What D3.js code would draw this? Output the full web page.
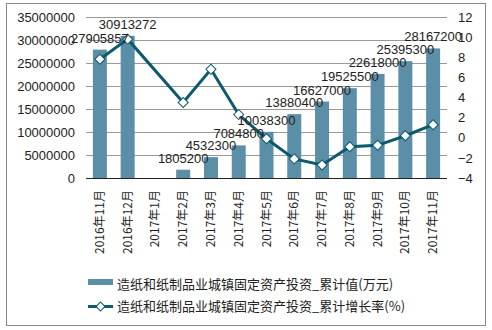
<!DOCTYPE html>
<html><head><meta charset="utf-8">
<script src="https://cdn.jsdelivr.net/npm/d3@7"></script>
<style>body{margin:0;background:#fff}svg{display:block;font-family:"Liberation Sans",Arial,sans-serif}</style>
</head><body><svg width="492" height="330"></svg>
<script>
const categories = ["2016年11月","2016年12月","2017年1月","2017年2月","2017年3月","2017年4月","2017年5月","2017年6月","2017年7月","2017年8月","2017年9月","2017年10月","2017年11月"];
const barValues = [27905857,30913272,null,1805200,4532300,7084800,10038300,13880400,16627000,19525500,22618000,25395300,28167200];
const barLabels = ["27905857","30913272","","1805200","4532300","7084800","10038300","13880400","16627000","19525500","22618000","25395300","28167200"];
const rateValues = [7.8,9.8,null,3.5,6.8,2.3,-0.1,-2.1,-2.7,-0.9,-0.75,0.2,1.3];
const leftTicks = [0,5000000,10000000,15000000,20000000,25000000,30000000,35000000];
const rightTicks = [-4,-2,0,2,4,6,8,10,12];
const barName = "造纸和纸制品业城镇固定资产投资_累计值(万元)";
const lineName = "造纸和纸制品业城镇固定资产投资_累计增长率(%)";

const barColor = "#5b8ea7", lineColor = "#0d596d";
const svg = d3.select("svg");
svg.append("rect").attr("x",6.5).attr("y",3.5).attr("width",479).attr("height",322)
  .attr("fill","none").attr("stroke","#888").attr("stroke-width",1);

const L = 86, R = 447, T = 17, B = 178;
const x = d3.scaleBand().domain(categories).range([L,R]).padding(0);
const yL = d3.scaleLinear().domain([0,35000000]).range([B,T]);
const yR = d3.scaleLinear().domain([-4,12]).range([B,T]);

// gridlines
svg.append("g").selectAll("line").data(leftTicks.filter(d=>d>0)).join("line")
  .attr("x1",L).attr("x2",R).attr("y1",d=>Math.round(yL(d))+0.5).attr("y2",d=>Math.round(yL(d))+0.5)
  .attr("stroke","#999").attr("stroke-width",1);

// left axis
const gl = svg.append("g").attr("transform",`translate(${L},0)`)
  .call(d3.axisLeft(yL).tickValues(leftTicks).tickSize(0).tickPadding(11).tickFormat(d3.format("d")));
gl.select(".domain").remove();
gl.selectAll("text").attr("font-size",13).attr("fill","#222").attr("font-family","Liberation Sans, Arial, sans-serif");

// right axis
const gr = svg.append("g").attr("transform",`translate(${R},0)`)
  .call(d3.axisRight(yR).tickValues(rightTicks).tickSize(0).tickPadding(11));
gr.select(".domain").remove();
gr.selectAll("text").attr("font-size",13).attr("fill","#222").attr("font-family","Liberation Sans, Arial, sans-serif");

// bars
const bw = 14;
svg.append("g").selectAll("rect").data(categories.map((c,i)=>({c,v:barValues[i]})).filter(d=>d.v!=null)).join("rect")
  .attr("x",d=>x(d.c)+x.bandwidth()/2-bw/2).attr("width",bw)
  .attr("y",d=>yL(d.v)).attr("height",d=>B-yL(d.v)).attr("fill",barColor);

// baseline
svg.append("line").attr("x1",L).attr("x2",R).attr("y1",B+0.5).attr("y2",B+0.5).attr("stroke","#222");

// line
const pts = categories.map((c,i)=>({c,v:rateValues[i]})).filter(d=>d.v!=null);
svg.append("path").datum(pts)
  .attr("d",d3.line().x(d=>x(d.c)+x.bandwidth()/2).y(d=>yR(d.v)))
  .attr("fill","none").attr("stroke",lineColor).attr("stroke-width",3);
const diamond = d3.symbol().type(d3.symbolDiamond).size(60);
svg.append("g").selectAll("path").data(pts).join("path")
  .attr("transform",d=>`translate(${x(d.c)+x.bandwidth()/2},${yR(d.v)}) rotate(0)`)
  .attr("d",d3.symbol().type(d3.symbolSquare).size(50)).attr("transform",d=>`translate(${x(d.c)+x.bandwidth()/2},${yR(d.v)}) rotate(45)`)
  .attr("fill","#fff").attr("stroke",lineColor).attr("stroke-width",1);

// bar labels
svg.append("g").selectAll("text").data(categories.map((c,i)=>({c,v:barValues[i],t:barLabels[i]})).filter(d=>d.v!=null)).join("text")
  .attr("x",d=>x(d.c)+x.bandwidth()/2).attr("y",d=>yL(d.v)-7)
  .attr("text-anchor","middle").attr("font-size",13).attr("fill","#222").text(d=>d.t);

// x labels
svg.append("g").selectAll("text").data(categories).join("text")
  .attr("transform",d=>`translate(${x(d)+x.bandwidth()/2+4},190) rotate(-90)`)
  .attr("text-anchor","end").attr("font-size",12).attr("fill","#222")
  .attr("font-family","'Noto Sans CJK SC', sans-serif").text(d=>d);

// legend
const lg = svg.append("g");
lg.append("rect").attr("x",88).attr("y",279).attr("width",25).attr("height",6).attr("fill",barColor);
lg.append("text").attr("x",117).attr("y",284).attr("dy","0.35em").attr("font-size",13).attr("fill","#222")
  .attr("font-family","'Noto Sans CJK SC', sans-serif").text(barName);
lg.append("line").attr("x1",88).attr("x2",113).attr("y1",306.5).attr("y2",306.5).attr("stroke",lineColor).attr("stroke-width",3);
lg.append("path").attr("d",d3.symbol().type(d3.symbolSquare).size(40)).attr("transform","translate(100.5,306.5) rotate(45)")
  .attr("fill","#fff").attr("stroke",lineColor);
lg.append("text").attr("x",117).attr("y",306.5).attr("dy","0.35em").attr("font-size",13).attr("fill","#222")
  .attr("font-family","'Noto Sans CJK SC', sans-serif").text(lineName);
</script></body></html>
